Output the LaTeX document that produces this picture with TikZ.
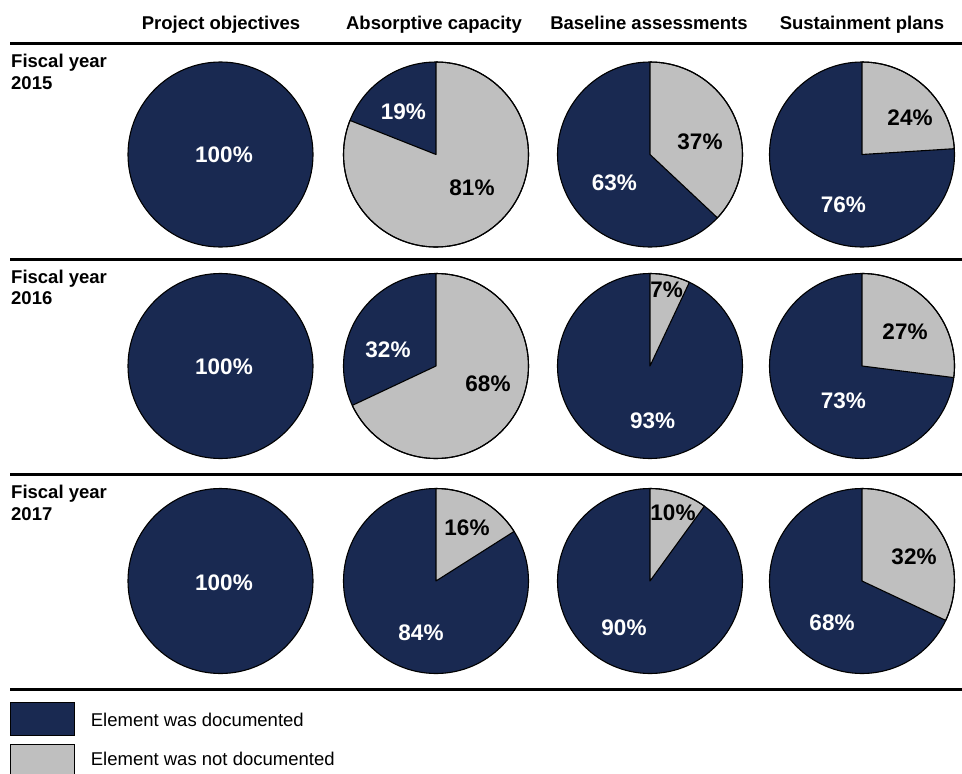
\documentclass[tikz,border=0pt]{standalone}
\usepackage{fontspec}
\setmainfont{Liberation Sans}
\definecolor{navy}{RGB}{25,41,81}
\definecolor{lgray}{RGB}{191,191,191}
\newcommand{\mypie}[3]{%
  \fill[navy] (#1,#2) circle[radius=92.5];
  \ifdim #3pt>0pt
    \filldraw[fill=lgray, draw=black, line width=1.1pt, line join=round] (#1,#2) -- ++(90:92.5) arc[start angle=90, delta angle={-3.6*#3}, radius=92.5] -- cycle;
  \fi
  \draw[line width=1.1pt] (#1,#2) circle[radius=92.5];
}
\begin{document}
\begin{tikzpicture}[x=1pt,y=1pt,
  hdr/.style={font=\fontsize{18.5}{22}\selectfont\bfseries, anchor=base, inner sep=0},
  rowlab/.style={font=\fontsize{18.5}{22}\selectfont\bfseries, anchor=base west, inner sep=0},
  wlab/.style={font=\fontsize{22.5}{27}\selectfont\bfseries, text=white, inner sep=0},
  blab/.style={font=\fontsize{22.5}{27}\selectfont\bfseries, text=black, inner sep=0},
  rule/.style={line width=3pt},
  legtext/.style={font=\fontsize{18.5}{22}\selectfont, anchor=base west, inner sep=0},
  legbox/.style={draw=black, line width=1pt}]
\useasboundingbox (0,0) rectangle (962,-774);

% headers
\node[hdr] (h1) at (221,-29.3) {Project objectives};
\node[hdr] (h2) at (434,-29.3) {Absorptive capacity};
\node[hdr] (h3) at (649,-29.3) {Baseline assessments};
\node[hdr] (h4) at (862,-29.3) {Sustainment plans};

% rules
\coordinate (r1a) at (10,-43.5); \coordinate (r1b) at (962,-43.5);
\coordinate (r2a) at (10,-259); \coordinate (r2b) at (962,-259);
\coordinate (r3a) at (10,-474.5); \coordinate (r3b) at (962,-474.5);
\coordinate (r4a) at (10,-689); \coordinate (r4b) at (962,-689);
\draw[rule] (r1a) -- (r1b);
\draw[rule] (r2a) -- (r2b);
\draw[rule] (r3a) -- (r3b);
\draw[rule] (r4a) -- (r4b);

% row labels
\node[rowlab] (y15a) at (11,-67.7) {Fiscal year};
\node[rowlab] (y15b) at (11,-89.3) {2015};
\node[rowlab] (y16a) at (11,-283.2) {Fiscal year};
\node[rowlab] (y16b) at (11,-304.8) {2016};
\node[rowlab] (y17a) at (11,-498.7) {Fiscal year};
\node[rowlab] (y17b) at (11,-520.3) {2017};

% row 1
\mypie{220.5}{-154.5}{0}
\mypie{436}{-154.5}{81}
\mypie{650}{-154.5}{37}
\mypie{862}{-154.5}{24}
\node[wlab] (p11) at (224,-155) {100\%};
\node[wlab] (p12a) at (403.3,-111.7) {19\%};
\node[blab] (p12b) at (472,-188) {81\%};
\node[blab] (p13a) at (700,-141.7) {37\%};
\node[wlab] (p13b) at (614.3,-182.7) {63\%};
\node[blab] (p14a) at (910,-117.3) {24\%};
\node[wlab] (p14b) at (843.3,-205) {76\%};

% row 2
\mypie{220.5}{-366}{0}
\mypie{436}{-366}{68}
\mypie{650}{-366}{7}
\mypie{862}{-366}{27}
\node[wlab] (p21) at (224,-367) {100\%};
\node[wlab] (p22a) at (388,-350) {32\%};
\node[blab] (p22b) at (488,-384) {68\%};
\node[blab] (p23a) at (666.7,-290) {7\%};
\node[wlab] (p23b) at (652.7,-421) {93\%};
\node[blab] (p24a) at (905,-331.7) {27\%};
\node[wlab] (p24b) at (843.3,-401) {73\%};

% row 3
\mypie{220.5}{-581}{0}
\mypie{436}{-581}{16}
\mypie{650}{-581}{10}
\mypie{862}{-581}{32}
\node[wlab] (p31) at (224,-583) {100\%};
\node[blab] (p32a) at (467,-528) {16\%};
\node[wlab] (p32b) at (421,-633) {84\%};
\node[blab] (p33a) at (673,-513) {10\%};
\node[wlab] (p33b) at (624,-628) {90\%};
\node[blab] (p34a) at (914,-557) {32\%};
\node[wlab] (p34b) at (832,-623) {68\%};

% legend
\filldraw[legbox, fill=navy] (10,-702.7) rectangle (74,-735.3);
\filldraw[legbox, fill=lgray] (10,-744.3) rectangle (74,-780);
\node[legtext] (l1) at (90.7,-726.7) {Element was documented};
\node[legtext] (l2) at (90.7,-765.7) {Element was not documented};
\end{tikzpicture}
\end{document}
